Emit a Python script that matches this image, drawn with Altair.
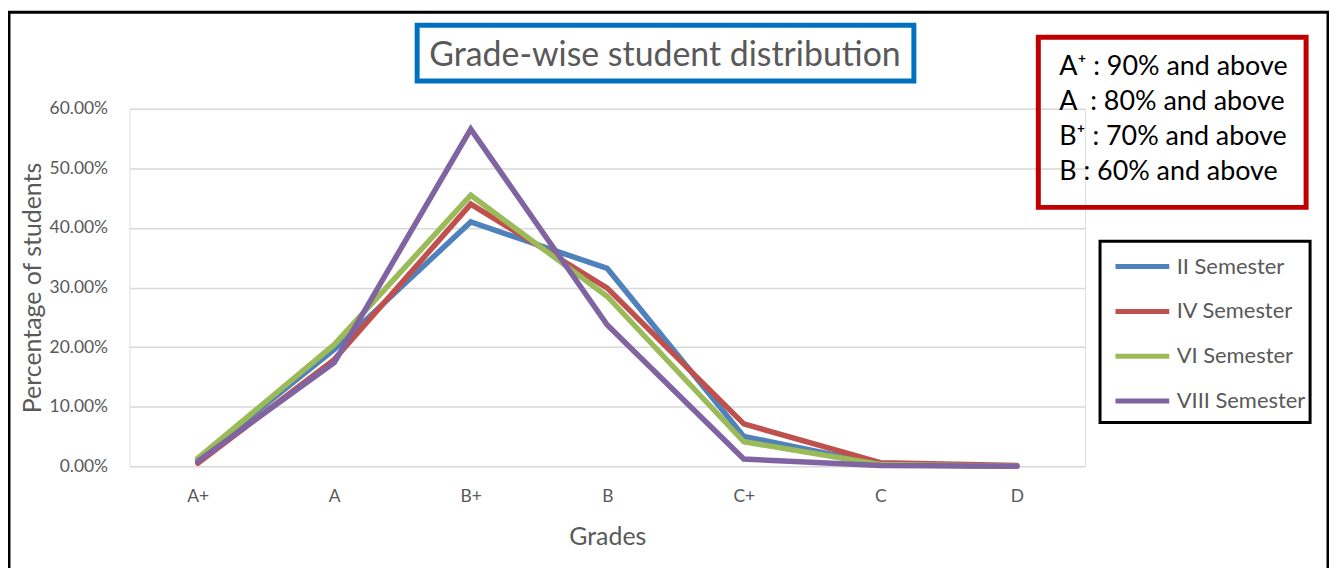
import altair as alt
import pandas as pd

grades = ["A+", "A", "B+", "B", "C+", "C", "D"]
series = ["II Semester", "IV Semester", "VI Semester", "VIII Semester"]
sem_ii = [0.012, 0.196, 0.410, 0.332, 0.050, 0.003, 0.000]
sem_iv = [0.005, 0.179, 0.440, 0.299, 0.071, 0.006, 0.001]
sem_vi = [0.013, 0.204, 0.455, 0.285, 0.041, 0.003, 0.000]
sem_viii = [0.008, 0.174, 0.566, 0.237, 0.012, 0.001, 0.000]
colors = ["#4F81BD", "#C0504D", "#9BBB59", "#8064A2"]
y_ticks = [0.0, 0.1, 0.2, 0.3, 0.4, 0.5, 0.6]

title_text = "Grade-wise student distribution"
note_lines = ["A\u207a : 90% and above", "A\u00a0 : 80% and above", "B\u207a : 70% and above", "B : 60% and above"]

FONT = "Lato"
GREY = "#595959"

rows = []
for name, vals in zip(series, [sem_ii, sem_iv, sem_vi, sem_viii]):
    for g, v in zip(grades, vals):
        rows.append({"series": name, "grade": g, "value": v})
df = pd.DataFrame(rows)

lines = alt.Chart(df).mark_line(strokeWidth=5.5, strokeJoin="miter", strokeCap="round").encode(
    x=alt.X("grade:N", sort=grades, scale=alt.Scale(type="point", padding=0.5),
            axis=alt.Axis(title="Grades", labelAngle=0, ticks=False, domain=False, grid=False,
                          labelPadding=21, labelFontSize=17.5, labelColor=GREY, labelFont=FONT,
                          titleFontSize=25, titleColor=GREY, titleFont=FONT, titleFontWeight="normal",
                          titleX=480, titleY=71, titleBaseline="middle")),
    y=alt.Y("value:Q", scale=alt.Scale(domain=[0, 0.6], nice=False),
            axis=alt.Axis(title="Percentage of students", format=".2%", values=y_ticks,
                          ticks=False, domain=False, grid=True, gridColor="#D9D9D9", gridWidth=1.5,
                          labelPadding=22, labelFontSize=17.5, labelColor=GREY, labelFont=FONT,
                          titleFontSize=25, titleColor=GREY, titleFont=FONT, titleFontWeight="normal",
                          titleX=-97, titleY=179.5, titleAngle=-90, titleAlign="center",
                          titleBaseline="middle")),
    color=alt.Color("series:N", sort=series, scale=alt.Scale(domain=series, range=colors),
                    legend=alt.Legend(title=None, orient="none", legendX=988, legendY=129,
                                      symbolType="stroke", symbolStrokeWidth=5, symbolSize=2916,
                                      labelFontSize=22, labelColor=GREY, labelFont=FONT,
                                      labelOffset=5, rowPadding=4, padding=0)),
    order=alt.value(0),
)

one = pd.DataFrame({"k": [0]})

frame = alt.Chart(one).mark_rect(filled=False, stroke="black", strokeWidth=3).encode(
    x=alt.value(-121), x2=alt.value(1204), y=alt.value(-97), y2=alt.value(600))
title_box = alt.Chart(one).mark_rect(filled=False, stroke="#0070C0", strokeWidth=5).encode(
    x=alt.value(289), x2=alt.value(788), y=alt.value(-84), y2=alt.value(-28))
note_box = alt.Chart(one).mark_rect(filled=False, stroke="#C00000", strokeWidth=5).encode(
    x=alt.value(913), x2=alt.value(1182), y=alt.value(-72), y2=alt.value(99))
legend_box = alt.Chart(one).mark_rect(filled=False, stroke="black", strokeWidth=3).encode(
    x=alt.value(975), x2=alt.value(1186), y=alt.value(133), y2=alt.value(315))

title = alt.Chart(pd.DataFrame({"t": [title_text]})).mark_text(
    font=FONT, fontSize=34, color=GREY, align="center", baseline="middle").encode(
    text="t:N", x=alt.value(538), y=alt.value(-53))

notes_df = pd.DataFrame({"t": note_lines, "i": list(range(len(note_lines)))})
notes = alt.Chart(notes_df).transform_calculate(py="-42 + datum.i * 35.3").mark_text(
    font=FONT, fontSize=27, color="black", align="left", baseline="middle").encode(
    text="t:N", x=alt.value(934), y=alt.Y("py:Q", scale=None, axis=None))

chart = alt.layer(frame, title_box, note_box, legend_box, lines, title, notes).resolve_scale(
    y="independent").properties(
    width=960, height=359,
    padding={"left": 122, "top": 100, "right": 245, "bottom": 101},
    autosize=alt.AutoSizeParams(type="none"),
).configure_view(stroke=None).configure(background="white")

chart.save("out.html", embed_options={"renderer": "svg", "actions": False})
